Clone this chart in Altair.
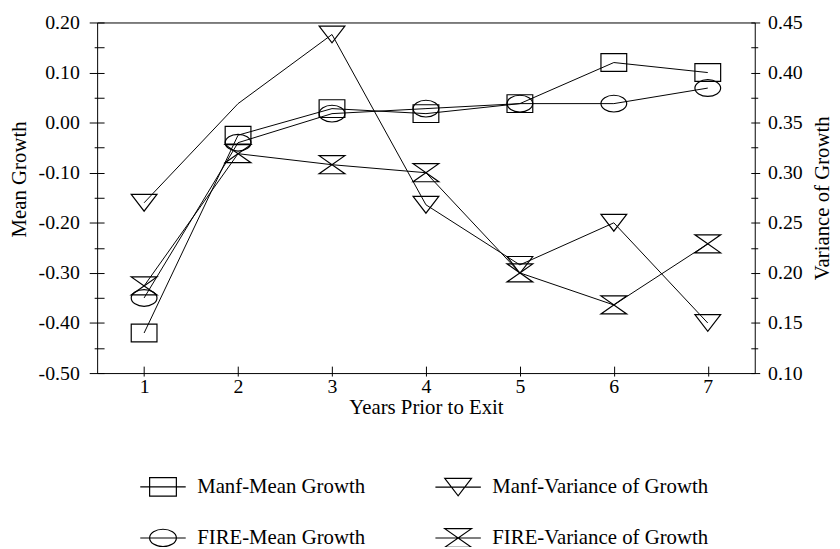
import altair as alt
import pandas as pd

# ---- data ----
years = [1, 2, 3, 4, 5, 6, 7]
manf_mean = [-0.42, -0.025, 0.028, 0.018, 0.038, 0.12, 0.10]
fire_mean = [-0.35, -0.04, 0.018, 0.028, 0.038, 0.038, 0.069]
manf_var = [0.27, 0.369, 0.438, 0.268, 0.208, 0.25, 0.15]
fire_var = [0.187, 0.319, 0.308, 0.30, 0.20, 0.168, 0.229]

series_names = ["Manf-Mean Growth", "Manf-Variance of Growth",
                "FIRE-Mean Growth", "FIRE-Variance of Growth"]
# order in which the legend grid fills its columns
legend_order = ["Manf-Mean Growth", "FIRE-Mean Growth",
                "Manf-Variance of Growth", "FIRE-Variance of Growth"]
# points whose marker is not printed in the reference
hidden_markers = [("Manf-Variance of Growth", 2)]

left_ticks = [-0.5, -0.45, -0.4, -0.35, -0.3, -0.25, -0.2, -0.15, -0.1,
              -0.05, 0.0, 0.05, 0.1, 0.15, 0.2]
right_ticks = [0.1, 0.125, 0.15, 0.175, 0.2, 0.225, 0.25, 0.275, 0.3,
               0.325, 0.35, 0.375, 0.4, 0.425, 0.45]

# ---- table ----
rows = []
for name, kind, vals in [(series_names[0], "mean", manf_mean),
                         (series_names[1], "var", manf_var),
                         (series_names[2], "mean", fire_mean),
                         (series_names[3], "var", fire_var)]:
    for yr, v in zip(years, vals):
        rows.append({"series": name, "kind": kind, "year": yr, "value": v,
                     "marker": (name, yr) not in hidden_markers})
df = pd.DataFrame(rows)
mean_df = df[df.kind == "mean"]
var_df = df[df.kind == "var"]

FONT = "Liberation Serif"

# marker shapes (unit paths, wider than tall like the scan)
sq = "M-1,-0.69H1V0.69H-1Z"
el = ("M-1,0C-1,-0.359,-0.552,-0.65,0,-0.65C0.552,-0.65,1,-0.359,1,0"
      "C1,0.359,0.552,0.65,0,0.65C-0.552,0.65,-1,0.359,-1,0Z")
tri = "M-1,-0.65H1L0,0.65Z"
hg = "M-1,-0.7H1L-1,0.7H1Z"
shape_of = {series_names[0]: sq, series_names[1]: tri,
            series_names[2]: el, series_names[3]: hg}
marker_paths = [shape_of[s] for s in series_names]
line_seg = "M-1.7,0H1.7"
legend_paths = [line_seg + shape_of[s] for s in legend_order]

xenc = alt.X(
    "year:Q",
    scale=alt.Scale(domain=[0.5, 7.5], nice=False, zero=False),
    axis=alt.Axis(values=years, format="d", title="Years Prior to Exit",
                  offset=-7, tickSize=10, labelPadding=1, domain=False,
                  grid=False, tickColor="black", labelColor="black",
                  labelFont=FONT, labelFontSize=20, titleFont=FONT,
                  titleFontSize=21, titleFontWeight="normal",
                  titleColor="black", titlePadding=0),
)

major_l = "abs(datum.value*10 - round(datum.value*10)) < 0.001"
major_r = "abs(datum.value*20 - round(datum.value*20)) < 0.001"

yL = alt.Y(
    "value:Q",
    scale=alt.Scale(domain=[-0.5, 0.2], nice=False, zero=False),
    axis=alt.Axis(orient="left", values=left_ticks, title="Mean Growth",
                  labelExpr=f"{major_l} ? replace(format(datum.value, '.2f'), '\u2212', '-') : ''",
                  offset=-7,
                  tickSize={"condition": {"test": major_l, "value": 15}, "value": 10},
                  labelPadding=10, domain=False, grid=False,
                  tickColor="black", labelColor="black", labelFont=FONT,
                  labelFontSize=20, titleFont=FONT, titleFontSize=21,
                  titleFontWeight="normal", titleColor="black",
                  titlePadding=9, titleY=158),
)

yR = alt.Y(
    "value:Q",
    scale=alt.Scale(domain=[0.10, 0.45], nice=False, zero=False),
    axis=alt.Axis(orient="right", values=right_ticks, title="Variance of Growth",
                  labelExpr=f"{major_r} ? format(datum.value, '.2f') : ''",
                  offset=-4,
                  tickSize={"condition": {"test": major_r, "value": 9}, "value": 7},
                  labelPadding=8, domain=False, grid=False,
                  tickColor="black", labelColor="black", labelFont=FONT,
                  labelFontSize=20, titleFont=FONT, titleFontSize=21,
                  titleFontWeight="normal", titleColor="black",
                  titleAngle=270, titleBaseline="top", titlePadding=9),
)

shape_plot = alt.Shape("series:N",
                       scale=alt.Scale(domain=series_names, range=marker_paths),
                       legend=None)

def lines(data, y):
    return alt.Chart(data).mark_line(color="black", strokeWidth=1).encode(
        x=xenc, y=y, detail="series:N", order="year:Q")

def points(data, y):
    return alt.Chart(data).transform_filter("datum.marker").mark_point(
        filled=False, color="black", strokeWidth=1.2, size=676, opacity=1
    ).encode(x=xenc, y=y, shape=shape_plot)

left = alt.layer(lines(mean_df, yL), points(mean_df, yL))
right = alt.layer(lines(var_df, yR), points(var_df, yR))

legend_layer = alt.Chart(df).transform_filter("false").mark_point(
    filled=False, color="black", strokeWidth=1.2, size=729
).encode(
    shape=alt.Shape(
        "series:N",
        scale=alt.Scale(domain=legend_order, range=legend_paths),
        legend=alt.Legend(
            title=None, orient="none", legendX=52, legendY=454, columns=2,
            columnPadding=68, rowPadding=25, padding=0,
            symbolSize=729, symbolStrokeWidth=1.2, symbolStrokeColor="black",
            symbolFillColor="transparent", symbolOpacity=1,
            labelFont=FONT, labelFontSize=21, labelColor="black",
            labelOffset=20, labelLimit=400,
        ),
    )
)

chart = alt.layer(left, right, legend_layer).resolve_scale(
    y="independent", shape="independent"
).properties(
    width=664, height=354,
    padding={"left": 90, "top": 12, "right": 78, "bottom": 173},
    autosize=alt.AutoSizeParams(type="none"),
    background="white",
).configure_view(stroke="black", strokeWidth=1)

chart.save("out.html", embed_options={"renderer": "svg", "actions": False})
